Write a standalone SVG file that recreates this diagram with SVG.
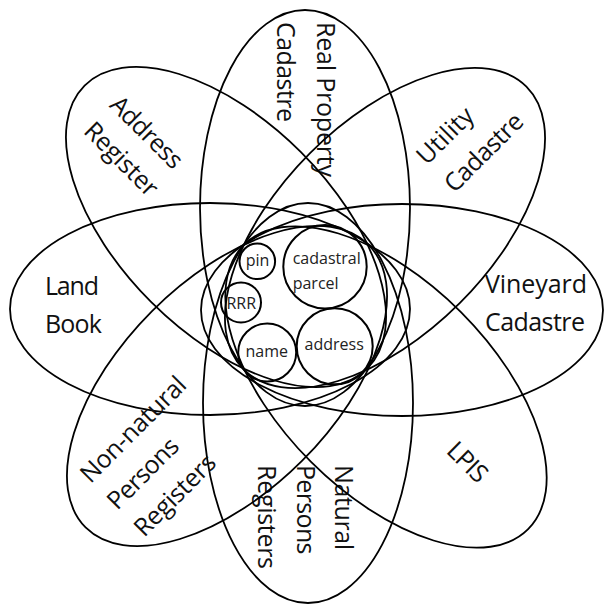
<svg xmlns="http://www.w3.org/2000/svg" width="604" height="605" viewBox="0 0 604 605">
<defs>
<style>
.sh{fill:none;stroke:#000;stroke-width:1.8}
.c{fill:none;stroke:#000;stroke-width:2}
.lb{font-family:"Open Sans","Liberation Sans",sans-serif;font-size:25px;fill:#111}
.in{font-family:"Open Sans","Liberation Sans",sans-serif;font-size:16px;fill:#222}
</style>
</defs>
<rect width="604" height="605" fill="#fff"/>
<g id="real-property-cadastre">
<ellipse class="sh" cx="305" cy="208" rx="105" ry="198"/>
<text class="lb" transform="translate(316.7,22) rotate(90)" textLength="155">Real Property</text>
<text class="lb" transform="translate(276.7,22) rotate(90)" textLength="100">Cadastre</text>
</g>
<g id="natural-persons-registers">
<ellipse class="sh" cx="308" cy="403" rx="105" ry="200"/>
<text class="lb" transform="translate(335,465) rotate(90)" textLength="85">Natural</text>
<text class="lb" transform="translate(296.7,465) rotate(90)" textLength="89.5">Persons</text>
<text class="lb" transform="translate(258.3,465) rotate(90)" textLength="104">Registers</text>
</g>
<g id="land-book">
<ellipse class="sh" cx="210" cy="309" rx="200" ry="106"/>
<text class="lb" x="45" y="295" textLength="54">Land</text>
<text class="lb" x="45" y="332.5" textLength="57">Book</text>
</g>
<g id="vineyard-cadastre">
<ellipse class="sh" cx="402" cy="310" rx="201" ry="106"/>
<text class="lb" x="485" y="293.3" textLength="102">Vineyard</text>
<text class="lb" x="485" y="331.3" textLength="100">Cadastre</text>
</g>
<g id="address-register">
<ellipse class="sh" cx="226" cy="227" rx="200" ry="106" transform="rotate(45 226 227)"/>
<text class="lb" transform="translate(108.6,106.2) rotate(45)" textLength="91">Address</text>
<text class="lb" transform="translate(108.6,106.2) rotate(45) translate(0,37)" textLength="93">Register</text>
</g>
<g id="utility-cadastre">
<ellipse class="sh" cx="385" cy="228" rx="200" ry="106" transform="rotate(-45 385 228)"/>
<text class="lb" transform="translate(426.8,166.1) rotate(-45)" textLength="69">Utility</text>
<text class="lb" transform="translate(426.8,166.1) rotate(-45) translate(0,39)" textLength="100">Cadastre</text>
</g>
<g id="non-natural-persons-registers">
<ellipse class="sh" cx="227" cy="386" rx="200" ry="106" transform="rotate(-45 227 386)"/>
<text class="lb" transform="translate(90.4,484.2) rotate(-45)" textLength="138">Non-natural</text>
<text class="lb" transform="translate(90.4,484.2) rotate(-45) translate(0,38)" textLength="89.5">Persons</text>
<text class="lb" transform="translate(90.4,484.2) rotate(-45) translate(0,76)" textLength="104">Registers</text>
</g>
<g id="lpis">
<ellipse class="sh" cx="386" cy="387" rx="201" ry="106" transform="rotate(45 386 387)"/>
<text class="lb" transform="translate(445.2,452) rotate(45)" textLength="46">LPIS</text>
</g>
<g id="pin">
<circle class="c" cx="257.3" cy="261.3" r="17.8"/>
<text class="in" x="257.5" y="266" text-anchor="middle">pin</text>
</g>
<g id="rrr">
<circle class="c" cx="241" cy="302.5" r="20"/>
<text class="in" x="241.3" y="309" text-anchor="middle">RRR</text>
</g>
<g id="name">
<circle class="c" cx="267.2" cy="352.5" r="29"/>
<text class="in" x="266.7" y="356.7" text-anchor="middle">name</text>
</g>
<g id="cadastral-parcel">
<circle class="c" cx="325" cy="266.7" r="41.7"/>
<text class="in" x="292.7" y="264">cadastral</text>
<text class="in" x="292.7" y="288.5">parcel</text>
</g>
<g id="address">
<circle class="c" cx="334.7" cy="346.3" r="38"/>
<text class="in" x="334.2" y="350" text-anchor="middle">address</text>
</g>
<g id="connectors"></g>
</svg>
